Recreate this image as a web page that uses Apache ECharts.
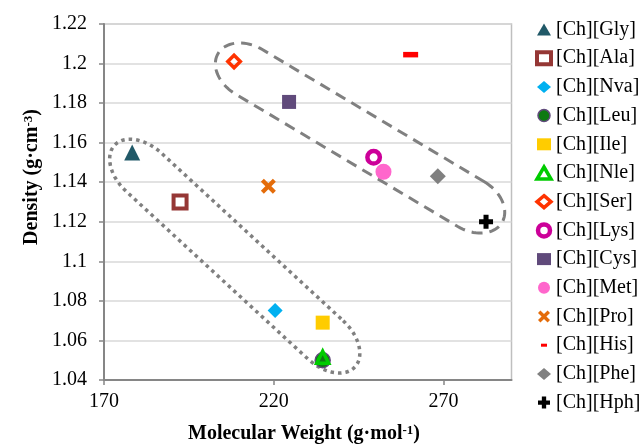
<!DOCTYPE html>
<html>
<head>
<meta charset="utf-8">
<script src="https://cdn.jsdelivr.net/npm/echarts@6/dist/echarts.min.js"></script>
<style>html,body{margin:0;padding:0;background:#fff}#c{width:639px;height:447px}</style>
</head>
<body>
<div id="c"></div>
<script>
// ---- data ----
const names = ['[Ch][Gly]','[Ch][Ala]','[Ch][Nva]','[Ch][Leu]','[Ch][Ile]','[Ch][Nle]','[Ch][Ser]','[Ch][Lys]','[Ch][Cys]','[Ch][Met]','[Ch][Pro]','[Ch][His]','[Ch][Phe]','[Ch][Hph]'];
const molecularWeight = [178.3, 192.4, 220.4, 234.4, 234.4, 234.4, 208.3, 249.4, 224.5, 252.3, 218.4, 260.3, 268.3, 282.5];
const density = [1.155, 1.130, 1.0752, 1.050, 1.069, 1.0515, 1.201, 1.1526, 1.1806, 1.1453, 1.138, 1.2045, 1.143, 1.120];
const xTicks = [170, 220, 270];
// annotation outlines: tips of the long axis in data space
const dashedOutline = [203.6, 1.2051, 287.2, 1.1196];
const dottedOutline = [173.1, 1.1587, 243.9, 1.0466];

// ---- styles ----
const X_PATH = 'path://M2,0 L5,3 L8,0 L10,2 L7,5 L10,8 L8,10 L5,7 L2,10 L0,8 L3,5 L0,2 Z';
const PLUS_PATH = 'path://M3.2,0 H6.8 V3.2 H10 V6.8 H6.8 V10 H3.2 V6.8 H0 V3.2 H3.2 Z';
const DASH_ICON = 'path://M0,0 M14,12 M4,4.5 H10 V7.5 H4 Z';
const NONE = 'rgba(0,0,0,0)';
const styles = {
  '[Ch][Gly]': {symbol:'triangle', size:16, item:{color:'#215968'}},
  '[Ch][Ala]': {symbol:'rect', size:13, item:{color:NONE, borderColor:'#953735', borderWidth:4}},
  '[Ch][Nva]': {symbol:'diamond', size:15, item:{color:'#00B0F0'}},
  '[Ch][Leu]': {symbol:'circle', size:15, item:{color:'#0E7A12', borderColor:'#604A7B', borderWidth:1.5}},
  '[Ch][Ile]': {symbol:'rect', size:14, item:{color:'#FFCC00'}},
  '[Ch][Nle]': {symbol:'triangle', size:12, item:{color:NONE, borderColor:'#00CC00', borderWidth:3.5}},
  '[Ch][Ser]': {symbol:'diamond', size:12.5, item:{color:NONE, borderColor:'#FF3300', borderWidth:3.5}},
  '[Ch][Lys]': {symbol:'circle', size:12.5, item:{color:NONE, borderColor:'#CC0099', borderWidth:4.5}},
  '[Ch][Cys]': {symbol:'rect', size:14, item:{color:'#604A7B'}},
  '[Ch][Met]': {symbol:'circle', size:16, item:{color:'#FF66CC'}},
  '[Ch][Pro]': {symbol:X_PATH, size:15, item:{color:'#E46C0A'}},
  '[Ch][His]': {symbol:'rect', size:[15,5.5], item:{color:'#FF0000'}, legendIcon: DASH_ICON},
  '[Ch][Phe]': {symbol:'diamond', size:16, item:{color:'#808080'}},
  '[Ch][Hph]': {symbol:PLUS_PATH, size:14, item:{color:'#000000'}}
};

const FONT = '"Liberation Serif","Times New Roman",serif';

function outlineSeries(ends, halfWidth, capLen, style) {
  return {
    type: 'custom', name: '_outline' + capLen, silent: true, z: 1,
    data: [ends], encode: {x: [0, 2], y: [1, 3]},
    renderItem: function (params, api) {
      const p1 = api.coord([api.value(0), api.value(1)]);
      const p2 = api.coord([api.value(2), api.value(3)]);
      const dx = p2[0] - p1[0], dy = p2[1] - p1[1];
      const L = Math.sqrt(dx * dx + dy * dy);
      const ux = dx / L, uy = dy / L, vx = -uy, vy = ux;
      const pts = [];
      const N = 40;
      function add(s, t) { pts.push([p1[0] + s * ux + t * vx, p1[1] + s * uy + t * vy]); }
      for (let i = 0; i <= N; i++) {
        const f = -Math.PI / 2 + Math.PI * i / N;
        add(L - capLen + capLen * Math.cos(f), halfWidth * Math.sin(f));
      }
      for (let i = 0; i <= N; i++) {
        const f = Math.PI / 2 + Math.PI * i / N;
        add(capLen + capLen * Math.cos(f), halfWidth * Math.sin(f));
      }
      return {type: 'polygon', shape: {points: pts}, style: Object.assign({fill: 'none', stroke: '#808080'}, style)};
    }
  };
}

const series = [
  outlineSeries(dashedOutline, 26, 36, {lineWidth: 3, lineDash: [11, 7]}),
  outlineSeries(dottedOutline, 26, 40, {lineWidth: 3.5, lineDash: [3.5, 4]})
];
names.forEach(function (n, i) {
  const s = styles[n];
  series.push({
    type: 'scatter', name: n, z: 3,
    symbol: s.symbol, symbolSize: s.size, itemStyle: Object.assign({opacity: 1}, s.item),
    data: [[molecularWeight[i], density[i]]]
  });
});

const legendData = names.map(function (n) {
  return styles[n].legendIcon ? {name: n, icon: styles[n].legendIcon} : {name: n};
});

const chart = echarts.init(document.getElementById('c'), null, {renderer: 'canvas'});
chart.setOption({
  animation: false,
  grid: {left: 104, right: 127.5, top: 24, bottom: 67, show: true, borderColor: '#BFBFBF', borderWidth: 1.5, backgroundColor: 'transparent'},
  xAxis: {
    type: 'value', min: 170, max: 290,
    axisLine: {lineStyle: {color: '#868686', width: 2}},
    axisTick: {show: true, inside: false, length: 5, lineStyle: {color: '#868686', width: 1.5}, customValues: xTicks},
    axisLabel: {color: '#000', fontFamily: FONT, fontSize: 20, margin: 12, customValues: xTicks},
    splitLine: {show: false}
  },
  yAxis: {
    type: 'value', min: 1.04, max: 1.22, interval: 0.02,
    axisLine: {show: true, lineStyle: {color: '#868686', width: 2}},
    axisTick: {show: true, inside: false, length: 5, lineStyle: {color: '#868686', width: 1.5}},
    axisLabel: {color: '#000', fontFamily: FONT, fontSize: 20, margin: 17},
    splitLine: {show: true, lineStyle: {color: '#D9D9D9', width: 1.5}}
  },
  legend: {
    data: legendData, orient: 'vertical', left: 530, top: 14.5,
    itemWidth: 14, itemHeight: 12, itemGap: 8.7,
    itemStyle: {borderWidth: 'inherit'},
    textStyle: {color: '#000', fontFamily: FONT, fontSize: 20, lineHeight: 20},
    selectedMode: false
  },
  graphic: [
    {type: 'text', x: 32, y: 177, rotation: Math.PI / 2,
     style: {text: '{a|Density (g·cm}{s|-3}{a|)}', align: 'center', verticalAlign: 'middle', fill: '#000',
       rich: {a: {fontFamily: FONT, fontSize: 20, fontWeight: 'bold', lineHeight: 20, verticalAlign: 'bottom'},
              s: {fontFamily: FONT, fontSize: 13, fontWeight: 'bold', lineHeight: 13, verticalAlign: 'top'}}}},
    {type: 'text', x: 304, y: 434,
     style: {text: '{a|Molecular Weight (g·mol}{s|-1}{a|)}', align: 'center', verticalAlign: 'middle', fill: '#000',
       rich: {a: {fontFamily: FONT, fontSize: 20, fontWeight: 'bold', lineHeight: 20, verticalAlign: 'bottom'},
              s: {fontFamily: FONT, fontSize: 13, fontWeight: 'bold', lineHeight: 13, verticalAlign: 'top'}}}}
  ],
  series: series
});
</script>
</body>
</html>
